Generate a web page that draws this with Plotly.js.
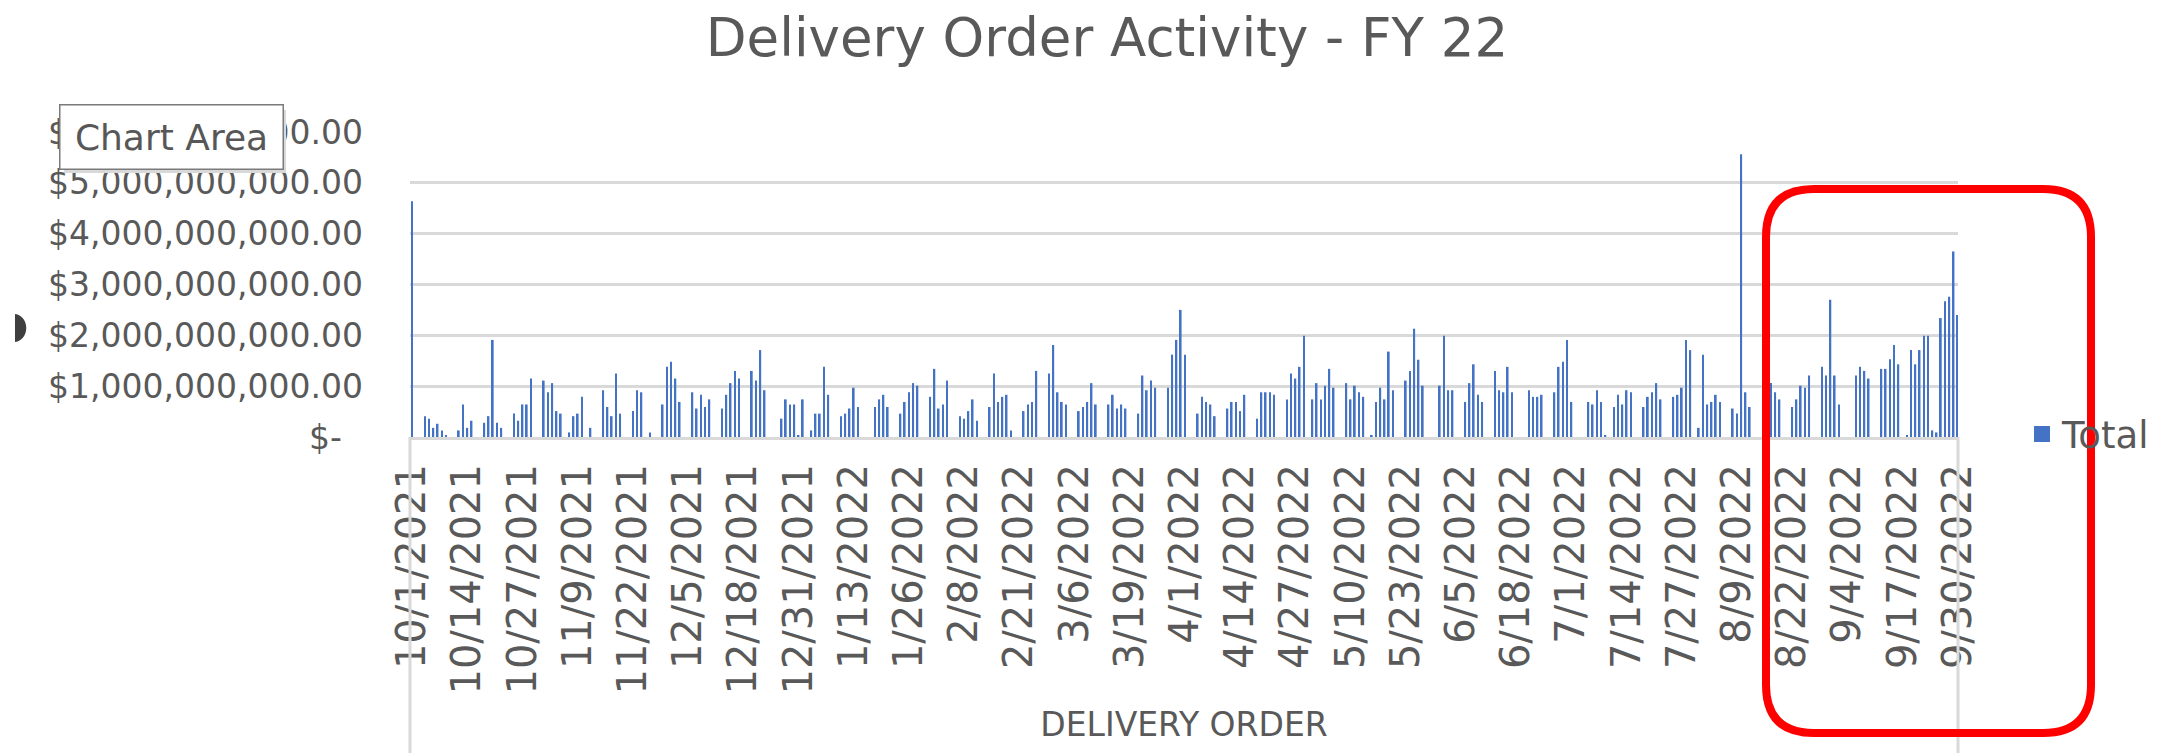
<!DOCTYPE html>
<html><head><meta charset="utf-8">
<script src="https://cdn.plot.ly/plotly-3.0.1.min.js"></script>
<style>html,body{margin:0;padding:0;background:#fff;overflow:hidden}#chart{width:2177px;height:753px}</style>
</head><body><div id="chart"></div>
<script>
// ---- data ----
const orderDates = [
 '2021-10-01','2021-10-04','2021-10-05','2021-10-06','2021-10-07','2021-10-08','2021-10-09','2021-10-12','2021-10-13','2021-10-14','2021-10-15','2021-10-18','2021-10-19','2021-10-20','2021-10-21','2021-10-22','2021-10-25','2021-10-26','2021-10-27','2021-10-28','2021-10-29',
 '2021-11-01','2021-11-02','2021-11-03','2021-11-04','2021-11-05','2021-11-07','2021-11-08','2021-11-09','2021-11-10','2021-11-12','2021-11-15','2021-11-16','2021-11-17','2021-11-18','2021-11-19','2021-11-22','2021-11-23','2021-11-24','2021-11-26','2021-11-29','2021-11-30',
 '2021-12-01','2021-12-02','2021-12-03','2021-12-06','2021-12-07','2021-12-08','2021-12-09','2021-12-10','2021-12-13','2021-12-14','2021-12-15','2021-12-16','2021-12-17','2021-12-20','2021-12-21','2021-12-22','2021-12-23','2021-12-27','2021-12-28','2021-12-29','2021-12-30','2021-12-31',
 '2022-01-01','2022-01-03','2022-01-04','2022-01-05','2022-01-06','2022-01-07','2022-01-10','2022-01-11','2022-01-12','2022-01-13','2022-01-14','2022-01-18','2022-01-19','2022-01-20','2022-01-21','2022-01-24','2022-01-25','2022-01-26','2022-01-27','2022-01-28','2022-01-31',
 '2022-02-01','2022-02-02','2022-02-03','2022-02-04','2022-02-07','2022-02-08','2022-02-09','2022-02-10','2022-02-11','2022-02-14','2022-02-15','2022-02-16','2022-02-17','2022-02-18','2022-02-19','2022-02-22','2022-02-23','2022-02-24','2022-02-25','2022-02-28',
 '2022-03-01','2022-03-02','2022-03-03','2022-03-04','2022-03-07','2022-03-08','2022-03-09','2022-03-10','2022-03-11','2022-03-14','2022-03-15','2022-03-16','2022-03-17','2022-03-18','2022-03-21','2022-03-22','2022-03-23','2022-03-24','2022-03-25','2022-03-28','2022-03-29','2022-03-30','2022-03-31',
 '2022-04-01','2022-04-04','2022-04-05','2022-04-06','2022-04-07','2022-04-08','2022-04-11','2022-04-12','2022-04-13','2022-04-14','2022-04-15','2022-04-18','2022-04-19','2022-04-20','2022-04-21','2022-04-22','2022-04-25','2022-04-26','2022-04-27','2022-04-28','2022-04-29',
 '2022-05-01','2022-05-02','2022-05-03','2022-05-04','2022-05-05','2022-05-06','2022-05-09','2022-05-10','2022-05-11','2022-05-12','2022-05-13','2022-05-15','2022-05-16','2022-05-17','2022-05-18','2022-05-19','2022-05-20','2022-05-23','2022-05-24','2022-05-25','2022-05-26','2022-05-27','2022-05-31',
 '2022-06-01','2022-06-02','2022-06-03','2022-06-06','2022-06-07','2022-06-08','2022-06-09','2022-06-10','2022-06-13','2022-06-14','2022-06-15','2022-06-16','2022-06-17','2022-06-21','2022-06-22','2022-06-23','2022-06-24','2022-06-27','2022-06-28','2022-06-29','2022-06-30',
 '2022-07-01','2022-07-05','2022-07-06','2022-07-07','2022-07-08','2022-07-09','2022-07-11','2022-07-12','2022-07-13','2022-07-14','2022-07-15','2022-07-18','2022-07-19','2022-07-20','2022-07-21','2022-07-22','2022-07-25','2022-07-26','2022-07-27','2022-07-28','2022-07-29','2022-07-31',
 '2022-08-01','2022-08-02','2022-08-03','2022-08-04','2022-08-05','2022-08-08','2022-08-09','2022-08-10','2022-08-11','2022-08-12','2022-08-16','2022-08-17','2022-08-18','2022-08-19','2022-08-22','2022-08-23','2022-08-24','2022-08-25','2022-08-26','2022-08-29','2022-08-30','2022-08-31',
 '2022-09-01','2022-09-02','2022-09-06','2022-09-07','2022-09-08','2022-09-09','2022-09-12','2022-09-13','2022-09-14','2022-09-15','2022-09-16','2022-09-18','2022-09-19','2022-09-20','2022-09-21','2022-09-22','2022-09-23','2022-09-24','2022-09-25','2022-09-26','2022-09-27','2022-09-28','2022-09-29','2022-09-30'
];
const orderTotals = [
 4.64e9,0.41e9,0.36e9,0.18e9,0.26e9,0.13e9,0.04e9,0.13e9,0.64e9,0.18e9,0.32e9,0.28e9,0.41e9,1.91e9,0.28e9,0.18e9,0.46e9,0.32e9,0.64e9,0.64e9,1.15e9,
 1.11e9,0.88e9,1.06e9,0.51e9,0.46e9,0.09e9,0.41e9,0.46e9,0.79e9,0.18e9,0.92e9,0.59e9,0.41e9,1.25e9,0.46e9,0.51e9,0.92e9,0.88e9,0.09e9,0.64e9,1.38e9,
 1.48e9,1.15e9,0.69e9,0.88e9,0.56e9,0.83e9,0.59e9,0.74e9,0.56e9,0.83e9,1.06e9,1.30e9,1.15e9,1.30e9,1.11e9,1.71e9,0.92e9,0.36e9,0.74e9,0.64e9,0.64e9,0.04e9,
 0.74e9,0.13e9,0.46e9,0.46e9,1.38e9,0.83e9,0.41e9,0.46e9,0.56e9,0.97e9,0.59e9,0.59e9,0.74e9,0.83e9,0.59e9,0.46e9,0.69e9,0.88e9,1.06e9,1.01e9,0.79e9,
 1.34e9,0.56e9,0.64e9,1.11e9,0.41e9,0.36e9,0.51e9,0.74e9,0.32e9,0.59e9,1.25e9,0.69e9,0.79e9,0.83e9,0.13e9,0.51e9,0.64e9,0.69e9,1.30e9,1.25e9,
 1.81e9,0.88e9,0.69e9,0.64e9,0.51e9,0.59e9,0.69e9,1.06e9,0.64e9,0.64e9,0.83e9,0.56e9,0.64e9,0.56e9,0.46e9,1.21e9,0.92e9,1.11e9,0.97e9,0.97e9,1.62e9,1.91e9,2.50e9,
 1.62e9,0.46e9,0.79e9,0.69e9,0.64e9,0.41e9,0.56e9,0.69e9,0.69e9,0.51e9,0.83e9,0.36e9,0.88e9,0.88e9,0.88e9,0.83e9,0.74e9,1.25e9,1.15e9,1.38e9,1.99e9,
 0.74e9,1.06e9,0.74e9,1.01e9,1.34e9,0.97e9,1.06e9,0.74e9,1.01e9,0.88e9,0.79e9,0.04e9,0.69e9,0.97e9,0.74e9,1.68e9,0.92e9,1.11e9,1.30e9,2.13e9,1.52e9,1.01e9,1.01e9,
 1.99e9,0.92e9,0.92e9,0.69e9,1.06e9,1.43e9,0.83e9,0.69e9,1.30e9,0.92e9,0.88e9,1.38e9,0.88e9,0.92e9,0.79e9,0.79e9,0.83e9,0.88e9,1.38e9,1.48e9,1.91e9,
 0.69e9,0.69e9,0.64e9,0.92e9,0.69e9,0.04e9,0.59e9,0.83e9,0.64e9,0.92e9,0.88e9,0.59e9,0.79e9,0.88e9,1.06e9,0.74e9,0.79e9,0.83e9,0.97e9,1.91e9,1.71e9,0.18e9,
 1.62e9,0.64e9,0.69e9,0.83e9,0.69e9,0.56e9,0.46e9,5.56e9,0.88e9,0.59e9,0.74e9,1.06e9,0.88e9,0.74e9,0.59e9,0.74e9,1.01e9,0.97e9,1.21e9,1.38e9,1.21e9,2.70e9,
 1.21e9,0.64e9,1.21e9,1.38e9,1.30e9,1.15e9,1.34e9,1.34e9,1.53e9,1.81e9,1.43e9,0.04e9,1.71e9,1.43e9,1.71e9,1.99e9,1.99e9,0.13e9,0.09e9,2.34e9,2.67e9,2.76e9,3.65e9,2.40e9
];
const seriesName = 'Total';
const chartTitle = 'Delivery Order Activity - FY 22';
const xAxisTitle = 'DELIVERY ORDER';
const yTickValues = [0, 1e9, 2e9, 3e9, 4e9, 5e9, 6e9];
const yTickLabels = ['$-&nbsp;&nbsp;', '$1,000,000,000.00', '$2,000,000,000.00', '$3,000,000,000.00', '$4,000,000,000.00', '$5,000,000,000.00', '$6,000,000,000.00'];
const xFirstTick = '2021-10-01';
const xTickStepDays = 13;
const tooltipText = 'Chart Area';

// ---- layout geometry ----
const W = 2177, H = 753, ML = 410, MR = 219, MT = 132, MB = 316;
const PW = W - ML - MR, PH = H - MT - MB;
const px = v => (v - ML) / PW;
const py = v => 1 - (v - MT) / PH;
const FONT = 'DejaVu Sans', GREY = '#595959', GRID = '#d9d9d9', BLUE = '#4472C4';
const DAY = 86400000;

function roundedRectPath(l, t, r, b, rad) {
  const P = (x, y) => px(x).toFixed(5) + ',' + py(y).toFixed(5);
  return 'M' + P(l + rad, t) + ' L' + P(r - rad, t) + ' Q' + P(r, t) + ' ' + P(r, t + rad) +
    ' L' + P(r, b - rad) + ' Q' + P(r, b) + ' ' + P(r - rad, b) +
    ' L' + P(l + rad, b) + ' Q' + P(l, b) + ' ' + P(l, b - rad) +
    ' L' + P(l, t + rad) + ' Q' + P(l, t) + ' ' + P(l + rad, t) + ' Z';
}
function dPath() {
  const P = (x, y) => px(x).toFixed(5) + ',' + py(y).toFixed(5);
  return 'M' + P(15, 314) + ' C' + P(30, 316) + ' ' + P(30, 340) + ' ' + P(15, 342) + ' Z';
}

const trace = {
  type: 'bar', x: orderDates, y: orderTotals, name: seriesName,
  marker: {color: BLUE, line: {width: 0}}, width: 0.4 * DAY,
  hoverinfo: 'x+y'
};

const layout = {
  width: W, height: H,
  margin: {l: ML, r: MR, t: MT, b: MB, pad: 0},
  paper_bgcolor: '#ffffff', plot_bgcolor: '#ffffff',
  font: {family: FONT, size: 33, color: GREY},
  title: {text: chartTitle, font: {family: FONT, size: 53, color: GREY},
    xref: 'container', x: 1107 / W, xanchor: 'center', yref: 'container', y: 1 - 37 / H, yanchor: 'middle'},
  showlegend: true,
  legend: {x: px(2022), xanchor: 'left', y: py(434), yanchor: 'middle', bgcolor: 'rgba(0,0,0,0)',
    font: {family: FONT, size: 37, color: GREY}, itemwidth: 30},
  xaxis: {type: 'date', range: ['2021-09-30 12:00', '2022-09-30 01:00'],
    tick0: xFirstTick, dtick: xTickStepDays * DAY, tickformat: '%-m/%-d/%Y', tickangle: -90,
    showgrid: false, zeroline: false, showline: true, linecolor: GRID, linewidth: 3, ticks: '',
    ticklabelstandoff: 8, tickfont: {family: FONT, size: 40, color: GREY},
    title: {text: xAxisTitle, font: {family: FONT, size: 33, color: GREY}, standoff: 20},
    automargin: false, fixedrange: true},
  yaxis: {range: [0, 6e9], tickmode: 'array', tickvals: yTickValues, ticktext: yTickLabels,
    showgrid: true, gridcolor: GRID, gridwidth: 3, zeroline: false, showline: false, ticks: '',
    ticklabelstandoff: 46, tickfont: {family: FONT, size: 33, color: GREY},
    automargin: false, fixedrange: true},
  shapes: [
    {type: 'line', xref: 'paper', yref: 'paper', x0: px(410), x1: px(410), y0: py(437), y1: py(753), line: {color: GRID, width: 3}},
    {type: 'line', xref: 'paper', yref: 'paper', x0: px(1958), x1: px(1958), y0: py(437), y1: py(753), line: {color: GRID, width: 3}},
    {type: 'path', xref: 'paper', yref: 'paper', path: dPath(), fillcolor: '#3f3f3f', line: {width: 0}, layer: 'above'},
    {type: 'rect', xref: 'paper', yref: 'paper', x0: px(2034), x1: px(2050), y0: py(426), y1: py(442), fillcolor: BLUE, line: {width: 0}, layer: 'above'},
    {type: 'path', xref: 'paper', yref: 'paper', path: roundedRectPath(1766, 189, 2091, 733, 48),
      line: {color: '#ff0000', width: 8}, fillcolor: 'rgba(0,0,0,0)', layer: 'above'}
  ],
  annotations: [
    {xref: 'paper', yref: 'paper', x: px(175), y: py(141), xanchor: 'center', yanchor: 'middle',
      text: '&nbsp;', showarrow: false, width: 222, height: 63, bgcolor: '#d9d9d9', borderpad: 0, borderwidth: 0},
    {xref: 'paper', yref: 'paper', x: px(171.5), y: py(137), xanchor: 'center', yanchor: 'middle',
      text: tooltipText, showarrow: false, width: 222, height: 63, bgcolor: '#ffffff',
      bordercolor: '#7a7a7a', borderwidth: 1.5, borderpad: 0,
      font: {family: FONT, size: 36, color: '#575757'}}
  ]
};

Plotly.newPlot('chart', [trace], layout, {displayModeBar: false, responsive: false});
</script>
</body></html>
